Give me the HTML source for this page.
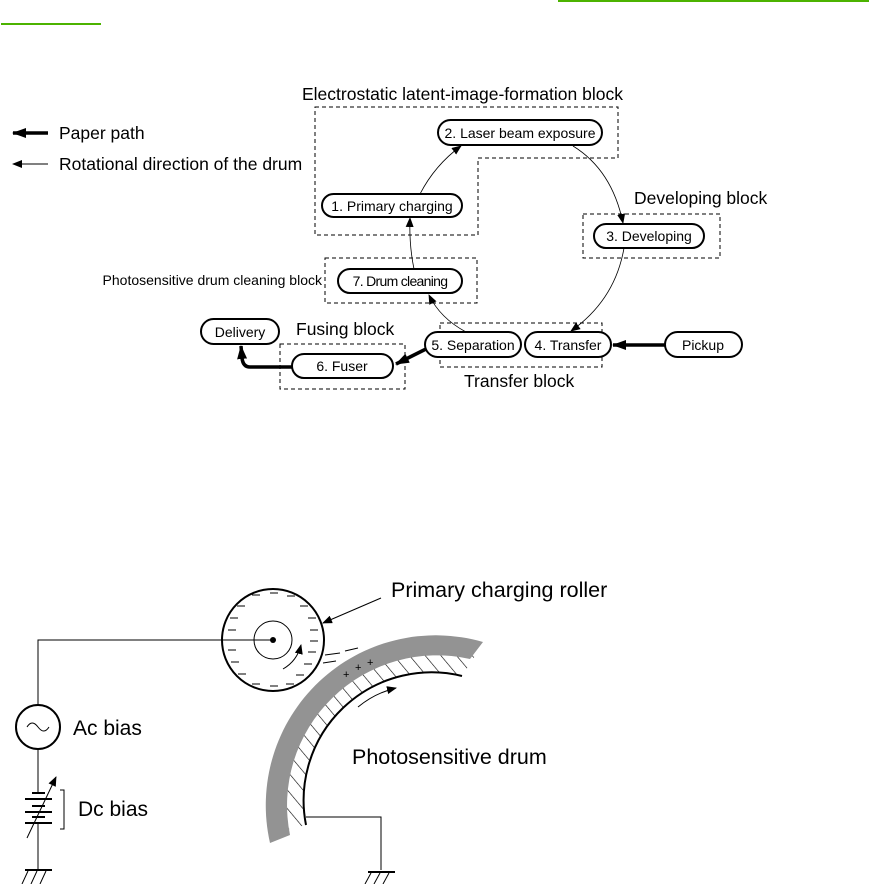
<!DOCTYPE html>
<html><head><meta charset="utf-8"><style>
html,body{margin:0;padding:0;background:#fff;width:871px;height:884px;overflow:hidden}
svg{display:block}
text{font-family:"Liberation Sans",sans-serif;fill:#000}
</style></head><body>
<svg width="871" height="884" viewBox="0 0 871 884" xmlns="http://www.w3.org/2000/svg">
<defs>
<marker id="a" markerWidth="10" markerHeight="8" refX="9" refY="4" orient="auto" markerUnits="userSpaceOnUse"><path d="M0,0 L10,4 L0,8 Z"/></marker>
<marker id="b" markerWidth="14" markerHeight="10" refX="13" refY="5" orient="auto" markerUnits="userSpaceOnUse"><path d="M0,0 L14,5 L0,10 Z"/></marker>
<pattern id="h" width="12" height="12" patternUnits="userSpaceOnUse" patternTransform="rotate(-40)"><line x1="0" y1="0" x2="0" y2="12" stroke="#000" stroke-width="1.2"/></pattern>
</defs>
<line x1="558" y1="1" x2="869" y2="1" stroke="#4cb300" stroke-width="2"/>
<line x1="1" y1="24" x2="101" y2="24" stroke="#4cb300" stroke-width="2"/>

<line x1="48" y1="133" x2="13" y2="133" stroke="#000" stroke-width="3.5" marker-end="url(#b)"/>
<text x="59" y="139" font-size="17.5">Paper path</text>
<line x1="48" y1="164" x2="13" y2="164" stroke="#000" stroke-width="1" marker-end="url(#a)"/>
<text x="59" y="170" font-size="17.5">Rotational direction of the drum</text>

<g fill="none" stroke="#000" stroke-width="1" stroke-dasharray="4,3">
<path d="M315,107 H618 V158 H478 V235 H315 Z"/>
<rect x="583" y="214" width="137" height="44"/>
<rect x="325" y="258" width="152" height="45"/>
<rect x="440" y="323" width="162" height="44"/>
<rect x="280" y="344" width="125" height="45"/>
</g>
<text x="302" y="100" font-size="17.5">Electrostatic latent-image-formation block</text>
<text x="634" y="204" font-size="17.5">Developing block</text>
<text x="322" y="285" font-size="14" text-anchor="end">Photosensitive drum cleaning block</text>
<text x="464" y="387" font-size="17.5">Transfer block</text>
<text x="296" y="335" font-size="17.5">Fusing block</text>

<g fill="#fff" stroke="#000" stroke-width="2">
<rect x="322" y="194" width="140" height="23" rx="11.5"/>
<rect x="438" y="120" width="164" height="25" rx="12.5"/>
<rect x="594" y="224" width="110" height="24" rx="12"/>
<rect x="338" y="269" width="124" height="24" rx="12"/>
<rect x="425" y="332" width="96" height="25" rx="12.5"/>
<rect x="525" y="332" width="86" height="25" rx="12.5"/>
<rect x="665" y="332" width="77" height="25" rx="12.5"/>
<rect x="292" y="354" width="101" height="24" rx="12"/>
<rect x="201" y="319" width="78" height="25" rx="12.5"/>
</g>
<g font-size="14" text-anchor="middle">
<text x="392" y="211">1. Primary charging</text>
<text x="520" y="138">2. Laser beam exposure</text>
<text x="649" y="241">3. Developing</text>
<text x="400" y="286" letter-spacing="-0.7">7. Drum cleaning</text>
<text x="473" y="350">5. Separation</text>
<text x="568" y="350">4. Transfer</text>
<text x="703" y="350">Pickup</text>
<text x="342" y="371">6. Fuser</text>
<text x="240" y="337">Delivery</text>
</g>

<g fill="none" stroke="#000" stroke-width="0.8">
<path d="M420,194 Q435,165 461,146" marker-end="url(#a)"/>
<path d="M573,146 Q612,170 623,223" marker-end="url(#a)"/>
<path d="M624,248 Q615,300 571,331" marker-end="url(#a)"/>
<path d="M466,332 Q440,318 429,295" marker-end="url(#a)"/>
<path d="M414,269 Q409,245 410,218" marker-end="url(#a)"/>
</g>
<g fill="none" stroke="#000" stroke-width="3.5">
<line x1="665" y1="345" x2="613" y2="345" marker-end="url(#b)"/>
<line x1="426" y1="349" x2="396" y2="364" marker-end="url(#b)"/>
<path d="M292,367 H250 Q243,367 242,358 L241,346" marker-end="url(#b)"/>
</g>

<path d="M306,825 A128,128 0 0 1 462,676 L477,653 A150,150 0 0 0 282,831 Z" fill="url(#h)"/>
<path d="M270,843 A170,170 0 0 1 483,642 L470,659 A150,150 0 0 0 290,835 Z" fill="#939393"/>
<path d="M306,825 A128,128 0 0 1 462,676" fill="none" stroke="#000" stroke-width="2"/>
<g stroke="#000" stroke-width="1">
<line x1="325" y1="655" x2="340" y2="653"/><line x1="345" y1="651" x2="358" y2="648"/><line x1="323" y1="663" x2="336" y2="661"/>
<text x="343" y="678" font-size="11" stroke="none">+</text><text x="355" y="671" font-size="11" stroke="none">+</text><text x="367" y="666" font-size="11" stroke="none">+</text>
</g>
<circle cx="273" cy="640" r="51" fill="#fff" stroke="#000" stroke-width="2"/>
<circle cx="273" cy="640" r="19" fill="none" stroke="#000" stroke-width="1"/>
<circle cx="273" cy="640" r="3" fill="#000"/>
<g stroke="#000" stroke-width="1">
<line x1="252" y1="595" x2="260" y2="595"/><line x1="270" y1="593" x2="278" y2="593"/><line x1="287" y1="596" x2="295" y2="596"/>
<line x1="237" y1="606" x2="245" y2="606"/><line x1="300" y1="606" x2="308" y2="606"/>
<line x1="230" y1="618" x2="238" y2="618"/><line x1="308" y1="618" x2="316" y2="618"/>
<line x1="228" y1="630" x2="236" y2="630"/><line x1="310" y1="630" x2="318" y2="630"/>
<line x1="228" y1="640" x2="236" y2="640"/><line x1="310" y1="641" x2="318" y2="641"/>
<line x1="228" y1="650" x2="236" y2="650"/><line x1="308" y1="652" x2="316" y2="652"/>
<line x1="231" y1="662" x2="239" y2="662"/><line x1="304" y1="664" x2="312" y2="664"/>
<line x1="238" y1="674" x2="246" y2="674"/><line x1="296" y1="675" x2="304" y2="675"/>
<line x1="252" y1="684" x2="260" y2="684"/><line x1="270" y1="686" x2="278" y2="686"/><line x1="286" y1="684" x2="294" y2="684"/>
</g>
<path d="M283,669 Q297,661 301,645" fill="none" stroke="#000" stroke-width="1" marker-end="url(#a)"/>
<path d="M358,707 Q375,693 396,688" fill="none" stroke="#000" stroke-width="1" marker-end="url(#a)"/>
<line x1="381" y1="598" x2="323" y2="623" stroke="#000" stroke-width="1" marker-end="url(#a)"/>
<text x="391" y="597" font-size="21.5">Primary charging roller</text>
<text x="352" y="764" font-size="21.5">Photosensitive drum</text>
<text x="73" y="735" font-size="21">Ac bias</text>
<text x="78" y="816" font-size="21">Dc bias</text>

<g fill="none" stroke="#000" stroke-width="1">
<path d="M273,640 H38 V705"/>
<circle cx="38" cy="727" r="22" stroke-width="2"/>
<path d="M27,727 Q32,719 38,727 Q44,735 49,727"/>
<path d="M38,749 V793 M38,823 V870"/>
<path d="M306,817 H381 V870"/>
<path d="M60,790 H64 V829 H60"/>
</g>
<g stroke="#000" stroke-width="2">
<line x1="32" y1="793" x2="45" y2="793"/>
<line x1="25" y1="799" x2="52" y2="799"/>
<line x1="32" y1="806" x2="45" y2="806"/>
<line x1="25" y1="812" x2="52" y2="812"/>
<line x1="32" y1="817" x2="45" y2="817"/>
<line x1="25" y1="823" x2="52" y2="823"/>
<line x1="25" y1="870" x2="52" y2="870"/>
<line x1="368" y1="872" x2="395" y2="872"/>
</g>
<line x1="27" y1="838" x2="56" y2="777" stroke="#000" stroke-width="1" marker-end="url(#a)"/>
<g stroke="#000" stroke-width="1">
<line x1="28" y1="871" x2="22" y2="884"/><line x1="37" y1="871" x2="31" y2="884"/><line x1="46" y1="871" x2="40" y2="884"/>
<line x1="371" y1="873" x2="365" y2="884"/><line x1="380" y1="873" x2="374" y2="884"/><line x1="389" y1="873" x2="383" y2="884"/>
</g>
</svg>
</body></html>
